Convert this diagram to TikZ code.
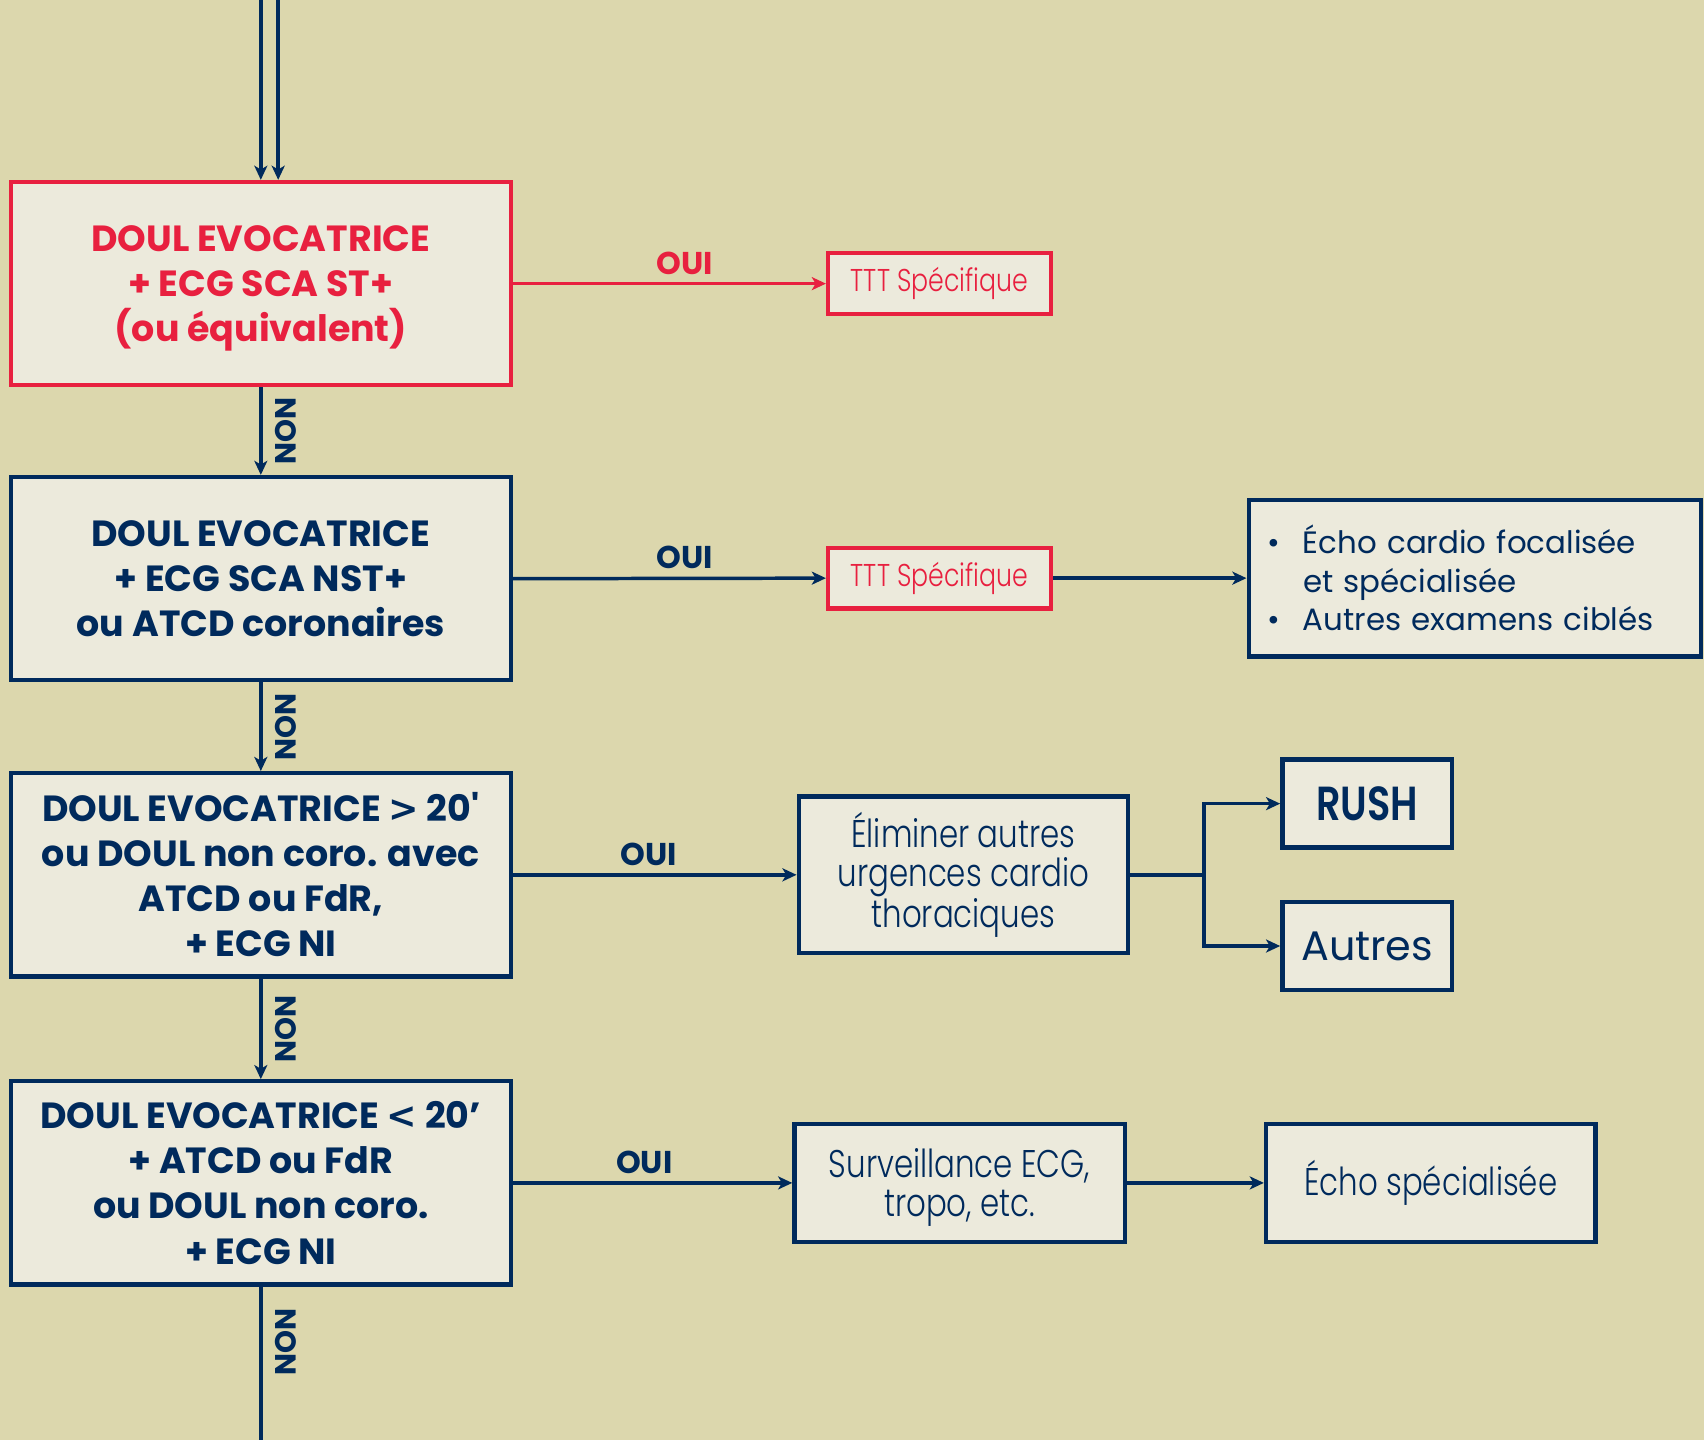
\documentclass[tikz,border=0pt]{standalone}
\usepackage{fontspec}
\setmainfont{Poppins}
\newfontfamily\narrowfont[FakeStretch=0.8]{Poppins Light}
\newfontfamily\relfont{DejaVu Sans}
\usetikzlibrary{arrows.meta}
\definecolor{bg}{HTML}{DCD7AD}
\definecolor{paper}{HTML}{ECEADC}
\definecolor{navy}{HTML}{002A5C}
\definecolor{alert}{HTML}{E8203F}
\begin{document}
\begin{tikzpicture}[x=1pt,y=-1pt,
  box/.style={draw=navy, fill=paper, line width=4pt, rectangle, inner sep=0pt,
    align=center, text=navy},
  redbox/.style={box, draw=alert, text=alert},
  question/.style={box, minimum width=460pt, minimum height=187pt,
    font=\fontsize{33.5}{41.5}\selectfont\bfseries},
  small/.style={font=\narrowfont\fontsize{29}{30}\selectfont},
  action/.style={font=\narrowfont\fontsize{35.5}{36}\selectfont},
  conn/.style={draw=navy, line width=3.2pt,
    -{Stealth[length=13pt,width=12pt,inset=3.5pt]}},
  redconn/.style={conn, draw=alert, fill=alert},
  link/.style={draw=navy, line width=3.2pt},
  oui/.style={above, inner sep=7pt, text=navy,
    font=\fontsize{29}{29}\selectfont\bfseries},
  non/.style={rotate=-90, text=navy, inner sep=0pt,
    font=\fontsize{27}{27}\selectfont\bfseries}
]
\fill[bg] (0,0) rectangle (1568,1325);
\useasboundingbox (0,0) rectangle (1568,1325);

% decision column
\node[question, draw=alert, text=alert] (b1) at (240,261)
  {DOUL EVOCATRICE\\+ ECG SCA ST+\\\raisebox{0pt}[\height][0pt]{(ou équivalent)}};
\node[question] (b2) at (240,532.5)
  {DOUL EVOCATRICE\\+ ECG SCA NST+\\ou ATCD coronaires};
\node[question] (b3) at (240,805)
  {DOUL EVOCATRICE {\relfont\bfseries >} 20\textquotesingle\\ou DOUL non coro. avec\\ATCD ou FdR,\\+ ECG NI};
\node[question] (b4) at (240,1088.5)
  {DOUL EVOCATRICE {\relfont\bfseries <} 20’\\+ ATCD ou FdR\\ou DOUL non coro.\\+ ECG NI};

% outcome boxes
\node[redbox, small, minimum width=205pt, minimum height=56pt] (t1) at (864.5,261) {TTT Spécifique};
\node[redbox, small, minimum width=205pt, minimum height=56pt] (t2) at (864.5,532) {TTT Spécifique};
\node[box, text width=382pt, inner xsep=17pt, minimum height=144pt, align=left,
  font=\fontsize{28.4}{35.5}\selectfont] (info) at (1357,532)
  {\makebox[33pt][l]{•}Écho cardio focalisée\\\hspace*{33pt}et spécialisée\\\makebox[33pt][l]{•}Autres examens ciblés};
\node[box, action, minimum width=303pt, minimum height=144pt] (elim) at (886.5,805)
  {Éliminer autres\\urgences cardio\\thoraciques};
\node[box, minimum width=156pt, minimum height=81pt,
  font=\narrowfont\fontsize{44}{44}\selectfont\bfseries] (rush) at (1258,739.5) {RUSH};
\node[box, minimum width=156pt, minimum height=81pt,
  font=\fontsize{38}{38}\selectfont] (autres) at (1258,870.5) {Autres};
\node[box, action, minimum width=304pt, minimum height=109pt] (surv) at (883,1088.5)
  {Surveillance ECG,\\\raisebox{0pt}[\height][0pt]{tropo, etc.}};
\node[box, action, minimum width=303pt, minimum height=109pt] (echo) at (1316.5,1088.5)
  {Écho spécialisée};

% incoming arrows at the top
\coordinate (topa) at (240,0);
\coordinate (topb) at (256,0);
\draw[conn, line width=3.8pt] (topa) -- (b1.north);
\draw[conn, line width=3.8pt] (topb) -- (b1.north -| topb);

% NON branches
\draw[conn] (b1.south) -- node[midway, xshift=23pt, non] {NON} (b2.north);
\draw[conn] (b2.south) -- node[midway, xshift=23pt, non] {NON} (b3.north);
\draw[conn] (b3.south) -- node[midway, xshift=23pt, non] {NON} (b4.north);
\coordinate (bottomend) at (240,1325);
\draw[link] (b4.south) -- node[pos=0.36, xshift=23pt, non] {NON} (bottomend);

% OUI branches
\draw[redconn] (b1.east) -- node[oui, text=alert, pos=0.55] {OUI} (t1.west);
\draw[conn] (b2.east) -- node[oui, pos=0.55] {OUI} (t2.west);
\draw[conn] (t2.east) -- (info.west);
\draw[conn] (b3.east) -- node[oui, pos=0.48] {OUI} (elim.west);
\coordinate (split) at (1108,805);
\draw[link] (elim.east) -- (split);
\draw[conn] (split) |- (rush.west);
\draw[conn] (split) |- (autres.west);
\draw[conn] (b4.east) -- node[oui, pos=0.47] {OUI} (surv.west);
\draw[conn] (surv.east) -- (echo.west);
\end{tikzpicture}
\end{document}
